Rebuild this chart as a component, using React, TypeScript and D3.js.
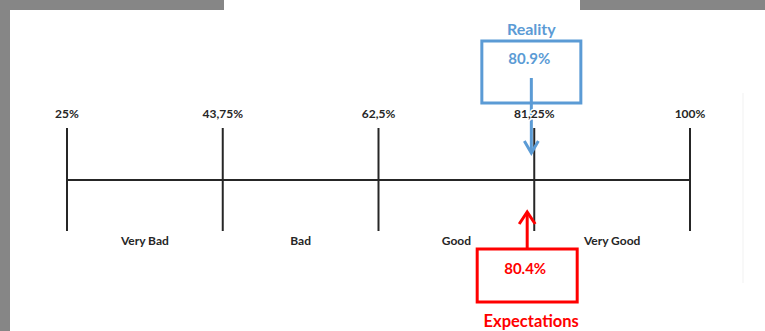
import React from 'react';
import * as d3 from 'd3';

// ---- data ----
const tickValues = [25, 43.75, 62.5, 81.25, 100];
const tickLabels = ['25%', '43,75%', '62,5%', '81,25%', '100%'];
const categories = ['Very Bad', 'Bad', 'Good', 'Very Good'];
const markerNames = ['Reality', 'Expectations'];
const markerValues = [80.9, 80.4];
const markerLabels = ['80.9%', '80.4%'];

// ---- layout / style ----
const W = 765;
const H = 331;
const FONT = 'Lato, "Open Sans", sans-serif';
const BLUE = '#5b9bd5';
const RED = '#ff0000';
const GRAY = '#868686';
const INK = '#262626';

export default function App() {
  const x = d3.scaleLinear().domain([25, 100]).range([67, 690]);
  const axisY = 180;
  const tickTop = 128;
  const tickBottom = 231;
  const boxW = 99;

  const [realName, expName] = markerNames;
  const [realVal, expVal] = markerValues;
  const [realLab, expLab] = markerLabels;
  const rx = x(realVal);
  const ex = x(expVal);

  return (
    <div style={{ position: 'fixed', left: 0, top: 0, width: W, height: H, background: '#fff' }}>
      <svg width={W} height={H} style={{ display: 'block' }}>
        {/* frame */}
        <rect x={0} y={0} width={W} height={H} fill="#fff" />
        <rect x={0} y={0} width={10} height={H} fill={GRAY} />
        <rect x={0} y={0} width={224} height={10} fill={GRAY} />
        <rect x={580} y={0} width={W - 580} height={10} fill={GRAY} />
        <line x1={743} x2={743} y1={93} y2={283} stroke="#f1f1f1" strokeWidth={1} />

        {/* axis */}
        <line x1={x(25)} x2={x(100)} y1={axisY} y2={axisY} stroke={INK} strokeWidth={2} />
        {tickValues.map((v) => (
          <line key={v} x1={x(v)} x2={x(v)} y1={tickTop} y2={tickBottom} stroke={INK} strokeWidth={2} />
        ))}

        {/* category labels */}
        {categories.map((c, i) => (
          <text
            key={c}
            x={(x(tickValues[i]) + x(tickValues[i + 1])) / 2}
            y={245}
            textAnchor="middle"
            fontFamily={FONT}
            fontWeight={700}
            fontSize={12}
            fill={INK}
          >
            {c}
          </text>
        ))}

        {/* Reality marker */}
        <text x={rx} y={35} textAnchor="middle" fontFamily={FONT} fontWeight={700} fontSize={16} fill={BLUE}>
          {realName}
        </text>
        <rect x={rx - boxW / 2} y={41} width={boxW} height={62} fill="none" stroke={BLUE} strokeWidth={3} />
        <text x={rx - 2} y={64} textAnchor="middle" fontFamily={FONT} fontWeight={700} fontSize={15} fill={BLUE}>
          {realLab}
        </text>
        <line x1={rx} x2={rx} y1={78} y2={152} stroke={BLUE} strokeWidth={3} />
        <polyline
          points={`${rx - 7},${141} ${rx},${153} ${rx + 7},${141}`}
          fill="none"
          stroke={BLUE}
          strokeWidth={3}
        />

        {/* Expectations marker */}
        <line x1={ex} x2={ex} y1={249} y2={213} stroke={RED} strokeWidth={3} />
        <polyline
          points={`${ex - 8},${224} ${ex},${212} ${ex + 8},${224}`}
          fill="none"
          stroke={RED}
          strokeWidth={3}
        />
        <rect x={ex - 50} y={249} width={100} height={53} fill="none" stroke={RED} strokeWidth={3} />
        <text x={ex - 2} y={274} textAnchor="middle" fontFamily={FONT} fontWeight={700} fontSize={15} fill={RED}>
          {expLab}
        </text>
        <text x={ex + 4} y={327} textAnchor="middle" fontFamily={FONT} fontWeight={700} fontSize={16.5} fill={RED}>
          {expName}
        </text>

        {/* tick labels (with white halo so arrows pass behind) */}
        {tickValues.map((v, i) => (
          <text
            key={v}
            x={x(v)}
            y={118}
            textAnchor="middle"
            fontFamily={FONT}
            fontWeight={700}
            fontSize={12}
            fill={INK}
            stroke="#fff"
            strokeWidth={3}
            paintOrder="stroke"
          >
            {tickLabels[i]}
          </text>
        ))}
      </svg>
    </div>
  );
}
